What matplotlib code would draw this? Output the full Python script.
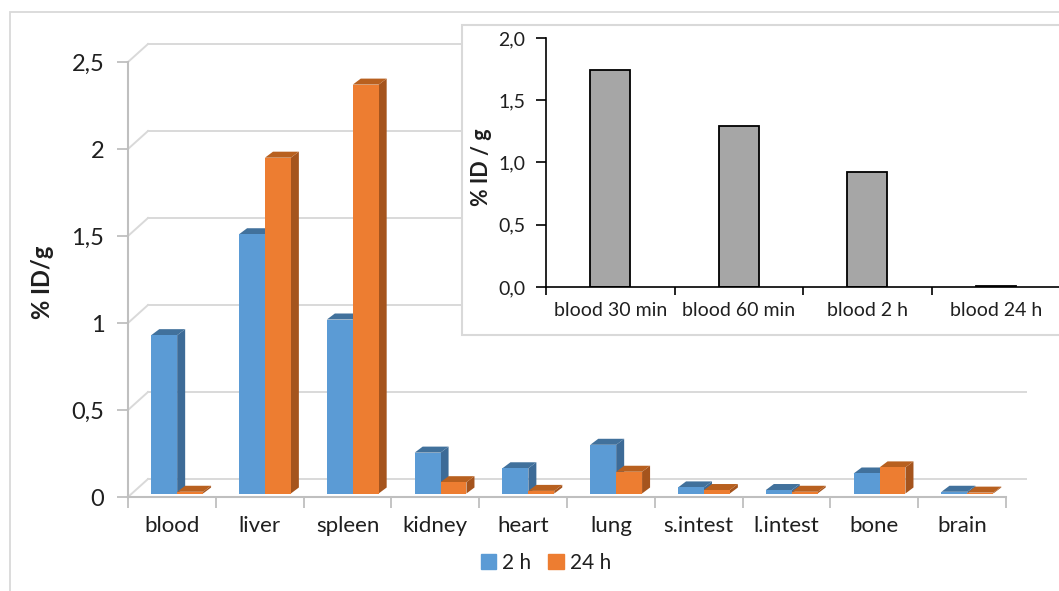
import matplotlib
matplotlib.use('Agg')
import matplotlib.pyplot as plt
from matplotlib.patches import Rectangle, Patch, Polygon
from matplotlib.transforms import ScaledTranslation

plt.rcParams['font.family'] = ['Lato', 'DejaVu Sans']

# datos (% ID/g)
organos = ['blood', 'liver', 'spleen', 'kidney', 'heart', 'lung',
           's.intest', 'l.intest', 'bone', 'brain']
id_2h = [0.91, 1.49, 1.00, 0.235, 0.145, 0.28, 0.035, 0.02, 0.115, 0.01]
id_24h = [0.01, 1.93, 2.35, 0.065, 0.015, 0.125, 0.02, 0.01, 0.15, 0.005]

tiempos_sangre = ['blood 30 min', 'blood 60 min', 'blood 2 h', 'blood 24 h']
id_sangre = [1.74, 1.29, 0.92, 0.01]

y_ticks = [0, 0.5, 1, 1.5, 2, 2.5]
y_ticks_txt = ['0', '0,5', '1', '1,5', '2', '2,5']
y_ticks_inset = [0, 0.5, 1.0, 1.5, 2.0]
y_ticks_inset_txt = ['0,0', '0,5', '1,0', '1,5', '2,0']

azul, azul_lado, azul_tapa = '#5B9BD5', '#3D6B97', '#41719C'
naranja, naranja_lado, naranja_tapa = '#ED7D31', '#A5541D', '#B8601F'
grilla = '#D9D9D9'
eje = '#BFBFBF'
texto = '#1F1F1F'

W, H = 1059, 591
fig = plt.figure(figsize=(W / 100, H / 100), dpi=100)

# marco exterior
fig.add_artist(Rectangle((10 / W, -0.05), 1.1, 1 - 12 / H + 0.05, transform=fig.transFigure,
                         fc='none', ec=grilla, lw=1.3, zorder=-1))

ax = fig.add_axes([128 / W, 1 - 497 / H, 878 / W, 435 / H])
ax.set_xlim(0, len(organos))
ax.set_ylim(0, 2.5)
sx = 878 / len(organos)   # px por categoria
sy = 435 / 2.5            # px por unidad

# pared del fondo (pseudo 3D)
fondo = ax.transData + ScaledTranslation(20 / 100, 18 / 100, fig.dpi_scale_trans)
for v in y_ticks:
    ax.plot([0, len(organos)], [v, v], transform=fondo, color=grilla, lw=1.4,
            clip_on=False, zorder=0)
    ax.plot([0, 20 / sx], [v, v + 18 / sy], color=grilla, lw=1.4, clip_on=False, zorder=0)

# barras con caras laterales y superiores
barra = ax.transData + ScaledTranslation(0, 3.5 / 100, fig.dpi_scale_trans)
ddx, ddy = 8 / sx, 6 / sy
ancho = 0.295


def barra_3d(x0, h, frente, lado, tapa):
    x1 = x0 + ancho
    ax.add_patch(Polygon([(x1, 0), (x1, h), (x1 + ddx, h + ddy), (x1 + ddx, ddy)],
                         fc=lado, ec='none', transform=barra, clip_on=False, zorder=2))
    ax.add_patch(Polygon([(x0, h), (x1, h), (x1 + ddx, h + ddy), (x0 + ddx, h + ddy)],
                         fc=tapa, ec='none', transform=barra, clip_on=False, zorder=2))
    ax.bar(x0, h, width=ancho, align='edge', color=frente, transform=barra,
           clip_on=False, zorder=2)


for i in range(len(organos)):
    barra_3d(i + 0.265, id_2h[i], azul, azul_lado, azul_tapa)
    barra_3d(i + 0.265 + ancho, id_24h[i], naranja, naranja_lado, naranja_tapa)

for s in ['top', 'right']:
    ax.spines[s].set_visible(False)
for s in ['left', 'bottom']:
    ax.spines[s].set_color(eje)
    ax.spines[s].set_linewidth(1.5)
ax.set_facecolor('none')

ax.set_yticks(y_ticks)
ax.set_yticklabels(y_ticks_txt)
ax.tick_params(axis='y', length=8, width=1.3, color=eje, pad=9, labelsize=17, labelcolor=texto)
ax.set_xticks(range(len(organos) + 1))
ax.set_xticklabels([])
ax.tick_params(axis='x', which='major', length=8, width=1.3, color=eje)
ax.set_xticks([i + 0.5 for i in range(len(organos))], minor=True)
ax.set_xticklabels(organos, minor=True)
ax.tick_params(axis='x', which='minor', length=0, pad=14, labelsize=16, labelcolor=texto)

fig.text(43 / W, 1 - 282 / H, '% ID/g', rotation=90, ha='center', va='center',
         fontsize=17, fontweight='bold', color=texto)

fig.legend([Patch(color=azul), Patch(color=naranja)], ['2 h', '24 h'], loc='center',
           bbox_to_anchor=(546 / W, 1 - 563 / H), ncol=2, frameon=False,
           handlelength=0.75, handleheight=0.75, handletextpad=0.3, columnspacing=0.8,
           fontsize=15, labelcolor=texto)

# recuadro con la sangre
fig.add_artist(Rectangle((462 / W, 1 - 335 / H), (1080 - 462) / W, 310 / H,
                         transform=fig.transFigure, fc='white', ec=grilla, lw=1.5, zorder=1))

axi = fig.add_axes([546 / W, 1 - 287 / H, 514 / W, 249 / H], zorder=2)
axi.set_facecolor('none')
axi.bar(range(len(id_sangre)), id_sangre, width=0.31, color='#A6A6A6',
        edgecolor='black', linewidth=1.3)
axi.set_xlim(-0.5, len(id_sangre) - 0.5)
axi.set_ylim(0, 2.0)
for s in ['top', 'right']:
    axi.spines[s].set_visible(False)
for s in ['left', 'bottom']:
    axi.spines[s].set_linewidth(1.2)
axi.set_yticks(y_ticks_inset)
axi.set_yticklabels(y_ticks_inset_txt)
axi.tick_params(axis='y', length=7, width=1.2, pad=8, labelsize=14, labelcolor=texto)
axi.set_xticks([i - 0.5 for i in range(len(id_sangre) + 1)])
axi.set_xticklabels([])
axi.tick_params(axis='x', which='major', length=6, width=1.2)
axi.set_xticks(range(len(id_sangre)), minor=True)
axi.set_xticklabels(tiempos_sangre, minor=True)
axi.tick_params(axis='x', which='minor', length=0, pad=11, labelsize=14, labelcolor=texto)
fig.text(482 / W, 1 - 167 / H, '% ID / g', rotation=90, ha='center', va='center',
         fontsize=15.5, fontweight='bold', color=texto)

fig.savefig('out.png', dpi=100)
